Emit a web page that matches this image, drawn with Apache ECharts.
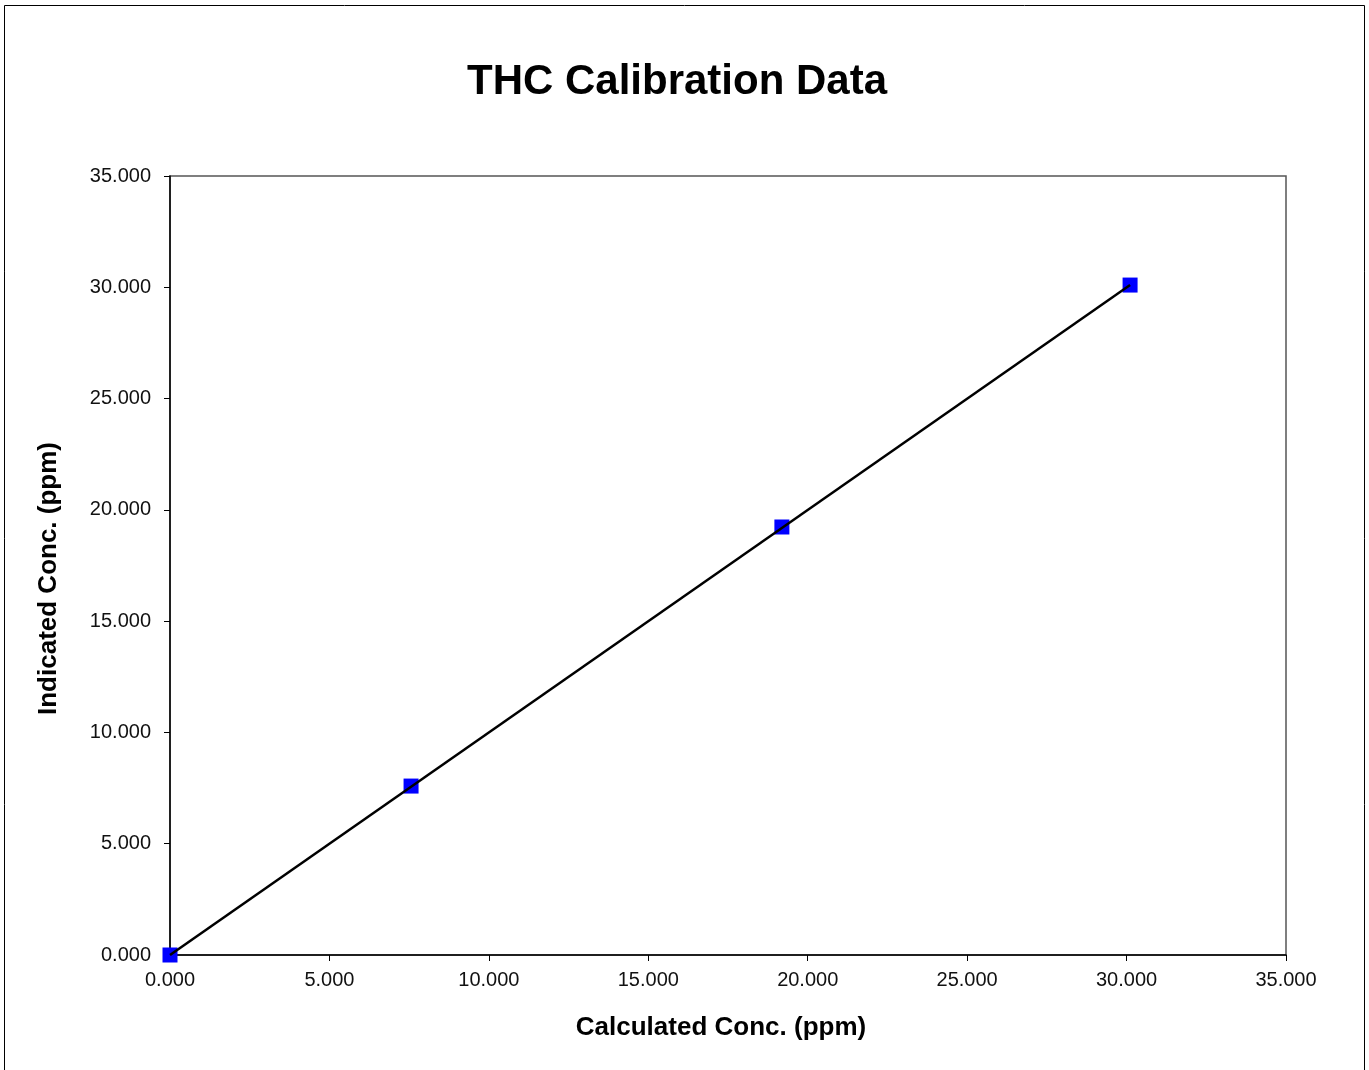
<!DOCTYPE html>
<html>
<head>
<meta charset="utf-8">
<script src="https://cdn.jsdelivr.net/npm/echarts@6/dist/echarts.min.js"></script>
<style>
  html, body { margin: 0; padding: 0; background: #fff; }
  #main { width: 1369px; height: 1070px; }
</style>
</head>
<body>
<div id="main"></div>
<script>
// measured points
var calcConc = [0.000, 7.56, 19.19, 30.11];
var indicatedConc = [0.000, 7.59, 19.23, 30.10];
// linear trend line end points
var trendX = [0.000, 30.11];
var trendY = [0.000, 30.10];
var axisTicks = [0, 5, 10, 15, 20, 25, 30, 35];

var pts = calcConc.map(function (x, i) { return [x, indicatedConc[i]]; });
var trend = trendX.map(function (x, i) { return [x, trendY[i]]; });

var font = '"Liberation Sans", Arial, sans-serif';
var chart = echarts.init(document.getElementById('main'), null, {renderer: 'canvas'});

function axisCfg(name) {
    return {
        type: 'value',
        min: axisTicks[0],
        max: axisTicks[axisTicks.length - 1],
        interval: axisTicks[1] - axisTicks[0],
        name: name,
        nameLocation: 'middle',
        nameTextStyle: {fontFamily: font, fontSize: 26, fontWeight: 'bold', color: '#000'},
        axisLine: {show: true, onZero: false, lineStyle: {color: '#000', width: 1.5}},
        axisTick: {show: true, inside: false, length: 6, lineStyle: {color: '#000'}},
        axisLabel: {
            fontFamily: font, fontSize: 20, color: '#111',
            formatter: function (v) { return v.toFixed(3); }
        },
        splitLine: {show: false}
    };
}

var xAxis = axisCfg('Calculated Conc. (ppm)');
xAxis.nameGap = 60;
xAxis.nameTextStyle.padding = [0, 14, 0, 0];
xAxis.axisLabel.margin = 15;
var yAxis = axisCfg('Indicated Conc. (ppm)');
yAxis.nameGap = 108;
yAxis.nameTextStyle.padding = [0, 26, 0, 0];
yAxis.axisLabel.margin = 19;

chart.setOption({
    backgroundColor: '#fff',
    animation: false,
    title: {
        text: 'THC Calibration Data',
        left: 462,
        top: 56,
        textStyle: {fontFamily: font, fontSize: 42, fontWeight: 'bold', color: '#000'}
    },
    graphic: [{
        type: 'rect',
        shape: {x: 4.5, y: 5.5, width: 1360, height: 1100},
        style: {fill: 'none', stroke: '#000', lineWidth: 1},
        silent: true
    }],
    grid: {
        left: 170, top: 176, width: 1116, height: 779,
        show: true, borderColor: '#555', borderWidth: 1.5, backgroundColor: 'transparent'
    },
    xAxis: xAxis,
    yAxis: yAxis,
    series: [{
        type: 'scatter',
        data: pts,
        symbol: 'rect',
        symbolSize: 15,
        itemStyle: {color: '#0000ff', opacity: 1},
        z: 2
    }, {
        type: 'line',
        data: trend,
        symbol: 'none',
        lineStyle: {color: '#000', width: 2.5},
        z: 3
    }]
});
</script>
</body>
</html>
